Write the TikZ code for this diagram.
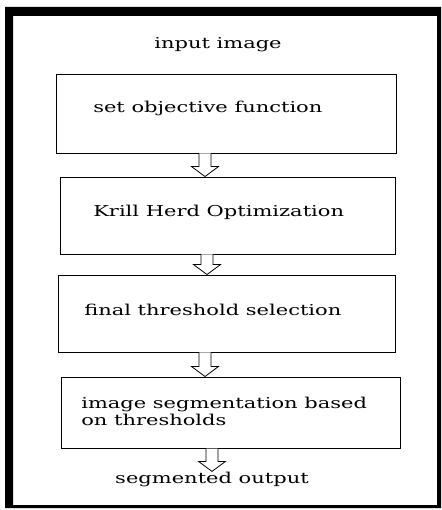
\documentclass[tikz,border=0pt]{standalone}
\usepackage{fontspec}
\setmainfont{DejaVu Serif}
\usetikzlibrary{calc,positioning}

\begin{document}
\begin{tikzpicture}[x=1pt, y=-1pt,
                    stage/.style = {draw, line width=0.9pt, inner sep=0pt},
                    txt/.style = {font=\fontsize{15}{17}\selectfont, inner sep=0pt,
                                  align=left, xscale=1.4, transform shape},
                    hollow/.style = {line width=0.8pt, fill=white, to path={
                        let \p1=(\tikztostart), \p2=(\tikztotarget) in
                        (\x1-6pt,\y1) -- (\x1-6pt,\y2+10pt) -- (\x1-13.5pt,\y2+10pt)
                        -- (\x1,\y2) -- (\x1+13.5pt,\y2+10pt) -- (\x1+6pt,\y2+10pt)
                        -- (\x1+6pt,\y1)}}
                ]

                \useasboundingbox (0,0) rectangle (441,510);
                % outer frame
                \fill[even odd rule] (5,7) rectangle (441,508) (13,16) rectangle (437,505);

                \node[stage, minimum width=340, minimum height=79] (b1) at (226,113.5) {};
                \node[stage, minimum width=335, minimum height=77] (b2) at (227.5,215.5) {};
                \node[stage, minimum width=337, minimum height=77] (b3) at (226.5,313.5) {};
                \node[stage, minimum width=339, minimum height=71, line width=1pt] (b4) at (230.5,412.5) {};

                \node[txt, anchor=base] (in) at (218,49) {input image};
                \node[txt, anchor=base west] (t1) at (93,113) {set objective function};
                \node[txt, anchor=base west] (t2) at (93,216.5) {Krill Herd Optimization};
                \node[txt, anchor=base west] (t3) at (84,315.5) {final threshold selection};
                \node[txt, anchor=base west] (t4) at (81,425) {image segmentation based\\on thresholds};
                \node[txt, anchor=base] (out) at (212,483) {segmented output};

                \draw[hollow] ([xshift=-21pt]b1.south) to ([xshift=-21pt]b2.north);
                \draw[hollow] ([xshift=-20.5pt]b2.south) to ([xshift=-20.5pt]b3.north);
                \draw[hollow] ([xshift=-21.5pt]b3.south) to ([xshift=-21.5pt]b4.north);
                \draw[hollow] ([xshift=-18.5pt]b4.south) to (out.north);

            \end{tikzpicture}
\end{document}
